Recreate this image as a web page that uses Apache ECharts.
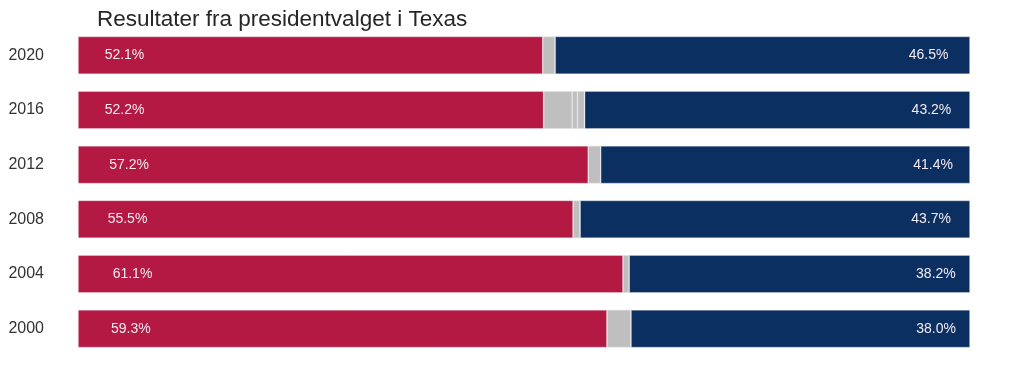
<!DOCTYPE html>
<html>
<head>
<meta charset="utf-8">
<script src="https://cdn.jsdelivr.net/npm/echarts@6/dist/echarts.min.js"></script>
<style>html,body{margin:0;padding:0;background:#fff}#c{width:1024px;height:382px}</style>
</head>
<body>
<div id="c"></div>
<script>
const years = ['2020', '2016', '2012', '2008', '2004', '2000'];
const rep = [52.1, 52.2, 57.2, 55.5, 61.1, 59.3];
const other1 = [1.4, 3.2, 1.4, 0.8, 0.7, 2.7];
const other2 = [0, 0.6, 0, 0, 0, 0];
const other3 = [0, 0.8, 0, 0, 0, 0];
const dem = [46.5, 43.2, 41.4, 43.7, 38.2, 38.0];
const title = 'Resultater fra presidentvalget i Texas';

const chart = echarts.init(document.getElementById('c'));
const border = { borderColor: 'rgba(255,255,255,0.4)', borderWidth: 0.7 };
function labelCfg(pos) {
  return {
    show: true, position: [pos, '50%'], align: 'center', verticalAlign: 'middle',
    color: '#f2eaf0', fontSize: 14, fontFamily: 'Liberation Sans, Arial, sans-serif',
    formatter: p => p.value.toFixed(1) + '%'
  };
}
function grey(name, data) {
  return { name, type: 'bar', stack: 's', data, barCategoryGap: '31%',
    itemStyle: { color: '#bfbfbf', borderColor: 'rgba(225,225,225,0.8)', borderWidth: 0.7 }, label: { show: false }, silent: true };
}
chart.setOption({
  animation: false,
  title: { text: title, left: 92, top: 3,
    textStyle: { fontSize: 22.5, fontWeight: 'normal', color: '#262626', fontFamily: 'Liberation Sans, Arial, sans-serif' } },
  grid: { left: 78, right: 54, top: 28, bottom: 26 },
  xAxis: { type: 'value', min: 0, max: 100, show: false },
  yAxis: { type: 'category', data: years, inverse: true,
    axisLine: { show: false }, axisTick: { show: false }, splitLine: { show: false },
    axisLabel: { color: '#333', fontSize: 16, margin: 34, fontFamily: 'Liberation Sans, Arial, sans-serif' } },
  series: [
    { name: 'Rep', type: 'bar', stack: 's', data: rep, barCategoryGap: '31%',
      itemStyle: Object.assign({ color: '#b31942' }, border), label: labelCfg('10%') },
    grey('o1', other1), grey('o2', other2), grey('o3', other3),
    { name: 'Dem', type: 'bar', stack: 's', data: dem, barCategoryGap: '31%',
      itemStyle: Object.assign({ color: '#0c2f61' }, border), label: labelCfg('90%') }
  ]
});
</script>
</body>
</html>
